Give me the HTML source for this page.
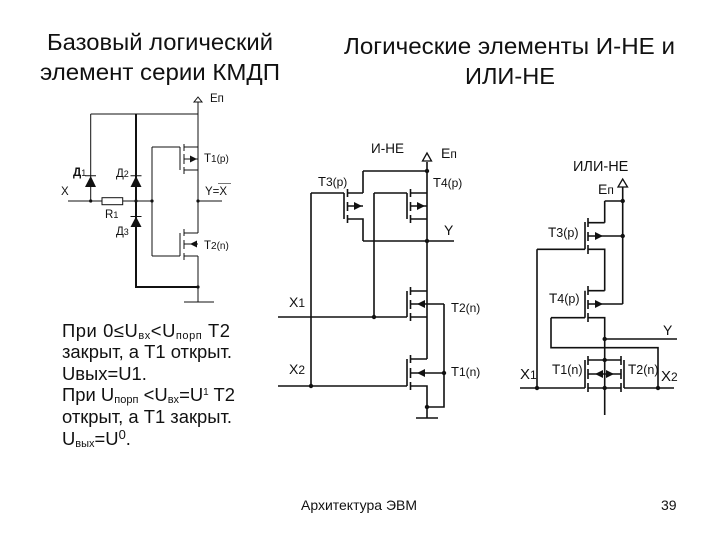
<!DOCTYPE html>
<html><head><meta charset="utf-8"><style>
html,body{margin:0;padding:0;background:#fff;width:720px;height:540px;overflow:hidden}
svg{display:block}
text{font-family:"Liberation Sans","Noto Sans CJK SC",sans-serif;fill:#111}
.l{fill:none;stroke:#111;stroke-width:1}
.m{fill:none;stroke:#111;stroke-width:1.6}
.b{fill:none;stroke:#111;stroke-width:2}
.t{font-size:23px}
.p{font-size:18.4px}
.s{font-size:11.5px}
.c{font-size:14px}
</style></head><body>
<svg width="720" height="540" viewBox="0 0 720 540" xmlns="http://www.w3.org/2000/svg">
<!-- Titles -->
<text class="t" x="47" y="50" textLength="226" lengthAdjust="spacingAndGlyphs">Базовый логический</text>
<text class="t" x="40" y="80" textLength="240" lengthAdjust="spacingAndGlyphs">элемент серии КМДП</text>
<text class="t" x="344" y="54" textLength="331" lengthAdjust="spacingAndGlyphs">Логические элементы И-НЕ и</text>
<text class="t" x="465" y="84" textLength="90" lengthAdjust="spacingAndGlyphs">ИЛИ-НЕ</text>

<!-- Left circuit -->
<path class="l" d="M198 101V233M90.7 114H198M90.7 114V201M68 201H102M122.7 201H152M198 201H222M184 147H198M184 170H198M184 233H198M184 159H198M184 244H198M152 147V256M152 147H180M180 147V170M180 233V256M198 256V302M184 302H214"/>
<path class="l" stroke-width="1.3" d="M152 256H180M184 256H198M184 144V151M184 154V164M184 167V174M184 229V236M184 240V249M184 253V260"/>
<path class="b" d="M136 114V287H198"/>
<rect x="102" y="197.7" width="20.7" height="7" fill="#fff" stroke="#111" stroke-width="1"/>
<path d="M198 97 L194 102 H202Z" fill="#fff" stroke="#111"/>
<path d="M90.7 176 L85 187 H96Z M136 176 L130.5 187 H141.5Z M136 216.5 L130.5 227 H141.5Z" fill="#111"/>
<path class="l" d="M85 175.7H96M130.5 175.7H141.5M130.5 216.5H141.5"/>
<path d="M197 159 L190 155.5 V162.5Z M190 244 L197 240.5 V247.5Z" fill="#111"/>
<g fill="#111"><circle cx="90.7" cy="201" r="1.6"/><circle cx="136" cy="201" r="1.6"/><circle cx="152" cy="201" r="1.6"/><circle cx="198" cy="201" r="1.6"/><circle cx="198" cy="287" r="1.6"/></g>
<text class="s" x="210" y="102">Eп</text>
<text class="s" x="73" y="176" font-weight="bold">Д<tspan font-size="9" font-weight="normal">1</tspan></text>
<text class="s" x="116" y="177">Д<tspan font-size="9">2</tspan></text>
<text class="s" x="61" y="195">X</text>
<text class="s" x="105" y="218">R<tspan font-size="9">1</tspan></text>
<text class="s" x="116" y="235">Д<tspan font-size="9">3</tspan></text>
<text class="s" x="204" y="162">T<tspan font-size="10">1(p)</tspan></text>
<text class="s" x="205" y="195">Y=X</text>
<path d="M218 183.5H231" stroke="#777" fill="none"/>
<text class="s" x="204" y="249">T<tspan font-size="10">2(n)</tspan></text>

<!-- И-НЕ -->
<path class="m" d="M427 162V359M363 171H427M363 171V193M347 193H363M347 206H363M347 219H363V241M363 241H454M311 193H344M344 193V219M311 193V386M374 193H407M407 193V219M410.5 193H427M410.5 206H427M410.5 219H427M374 193V317M278 317H407M407 291V317M410.5 291H427M410.5 304H444M410.5 317H427M407 359V386M278 386H407M410.5 359H427M410.5 373H444M410.5 386H427V418M416 418H438M444 304V407H427"/>
<path class="m" d="M347.5 189V197M347.5 202V211M347.5 215V223M410.5 189V197M410.5 202V211M410.5 215V223M410.5 287V295M410.5 300V309M410.5 313V321M410.5 355V363M410.5 368V378M410.5 382V390"/>
<path d="M427 153 L422.5 161 H431.5Z" fill="#fff" stroke="#111" stroke-width="1.3"/>
<path d="M362 206 L354 202 V210Z M425 206 L417 202 V210Z M417 304 L425 300 V308Z M417 373 L425 369 V377Z" fill="#111"/>
<g fill="#111"><circle cx="427" cy="171" r="2.2"/><circle cx="427" cy="241" r="2.2"/><circle cx="374" cy="317" r="2.2"/><circle cx="311" cy="386" r="2.2"/><circle cx="444" cy="373" r="2.2"/><circle cx="427" cy="407" r="2.2"/></g>
<text x="371" y="153" font-size="13.5">И-НЕ</text>
<text x="441" y="158" font-size="14">E<tspan font-size="12">п</tspan></text>
<text x="318" y="186" font-size="13">T<tspan font-size="12">3(p)</tspan></text>
<text x="433" y="187" font-size="13">T<tspan font-size="12">4(p)</tspan></text>
<text x="444" y="235" font-size="14">Y</text>
<text x="289" y="307" font-size="14">X<tspan font-size="12">1</tspan></text>
<text x="451" y="312" font-size="13">T<tspan font-size="12">2(n)</tspan></text>
<text x="289" y="374" font-size="14">X<tspan font-size="12">2</tspan></text>
<text x="451" y="376" font-size="13">T<tspan font-size="12">1(n)</tspan></text>

<!-- ИЛИ-НЕ -->
<path class="m" d="M622.7 186V304M604.7 201H622.7M604.7 201V222.7M588 222.7H604.7M588 236H622.7M585 222V249.3M537 249.3H585M588 249.3H604.7V290.7M588 290.7H604.7M588 304H622.7M585 290.7V317.7M551 317.7H585M588 317.7H604.7V415M604.7 339H677M551 317.7V347.7H658V388M537 249.3V388M520 388H585M624 388H674M585 360V388M624 360V388M588 360H621M588 374H621M588 388H621"/>
<path class="m" d="M588 218V227M588 232V241M588 245V254M588 286V295M588 300V309M588 313V322M588 356V365M588 369V379M588 383V392M621 356V365M621 369V379M621 383V392"/>
<path d="M622.7 179 L618 187 H627.5Z" fill="#fff" stroke="#111" stroke-width="1.3"/>
<path d="M603 236 L595 232 V240Z M603 304 L595 300 V308Z M595 374 L603 370 V378Z M614 374 L606 370 V378Z" fill="#111"/>
<g fill="#111"><circle cx="622.7" cy="201" r="2.2"/><circle cx="622.7" cy="236" r="2.2"/><circle cx="604.7" cy="339" r="2.2"/><circle cx="604.7" cy="360" r="2.2"/><circle cx="604.7" cy="388" r="2.2"/><circle cx="537" cy="388" r="2.2"/><circle cx="658" cy="388" r="2.2"/></g>
<text x="573" y="171" font-size="14.5">ИЛИ-НЕ</text>
<text x="598" y="194" font-size="14">E<tspan font-size="12">п</tspan></text>
<text x="548" y="237" font-size="13.5">T<tspan font-size="12.5">3(p)</tspan></text>
<text x="549" y="303" font-size="13.5">T<tspan font-size="12.5">4(p)</tspan></text>
<text x="663" y="335" font-size="14">Y</text>
<text x="520" y="379" font-size="15">X<tspan font-size="12">1</tspan></text>
<text x="552" y="374" font-size="13.5">T<tspan font-size="12.5">1(n)</tspan></text>
<text x="628" y="374" font-size="13.5">T<tspan font-size="12.5">2(n)</tspan></text>
<text x="661" y="381" font-size="15">X<tspan font-size="12">2</tspan></text>

<!-- Paragraph -->
<text class="p" x="62" y="337" textLength="168" lengthAdjust="spacing">При 0≤U<tspan font-size="11" dy="2">вх</tspan><tspan dy="-2">&lt;U</tspan><tspan font-size="11" dy="2">порп</tspan><tspan dy="-2"> T2</tspan></text>
<text class="p" x="62" y="358" textLength="170" lengthAdjust="spacingAndGlyphs">закрыт, а T1 открыт.</text>
<text class="p" x="62" y="380">Uвых=U1.</text>
<text class="p" x="62" y="401" textLength="173" lengthAdjust="spacing">При U<tspan font-size="11" dy="2">порп</tspan><tspan dy="-2"> &lt;U</tspan><tspan font-size="11" dy="2">вх</tspan><tspan dy="-2">=U</tspan><tspan font-size="10" dy="-6">1</tspan><tspan dy="6"> T2</tspan></text>
<text class="p" x="62" y="423" textLength="170" lengthAdjust="spacingAndGlyphs">открыт, а T1 закрыт.</text>
<text class="p" x="62" y="445">U<tspan font-size="11" dy="2">вых</tspan><tspan dy="-2">=U</tspan><tspan font-size="13" dy="-6">0</tspan><tspan dy="6">.</tspan></text>

<!-- Footer -->
<text class="c" x="301" y="510" textLength="116" lengthAdjust="spacingAndGlyphs">Архитектура ЭВМ</text>
<text class="c" x="661" y="510">39</text>
</svg>
</body></html>
